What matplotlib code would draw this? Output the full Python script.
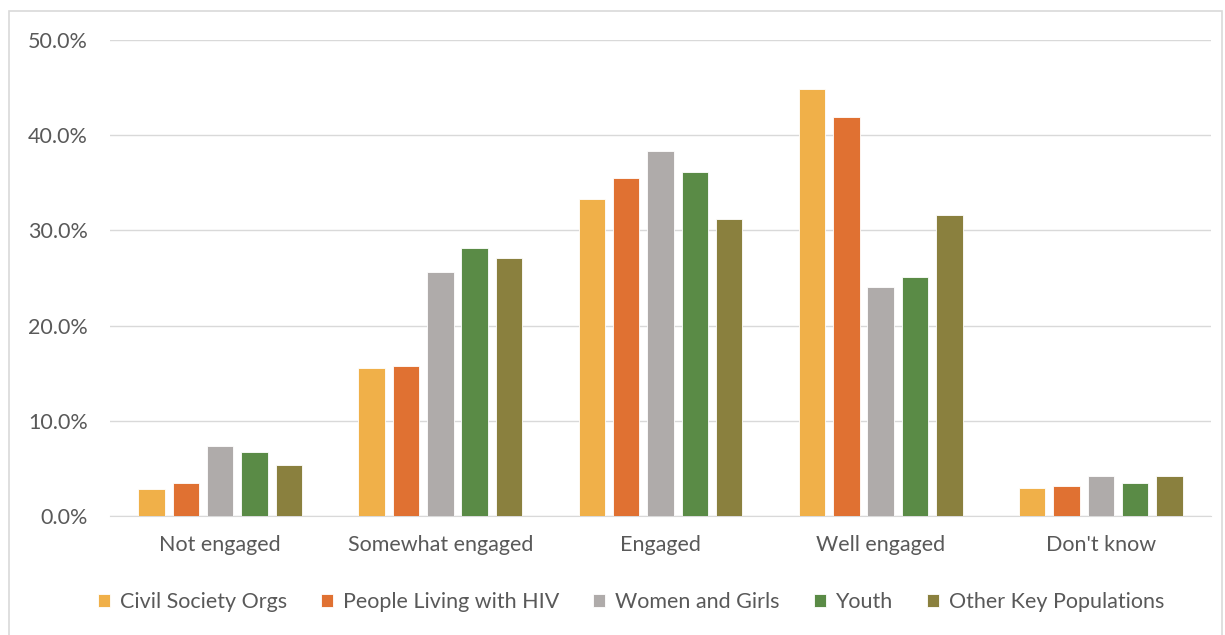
#!/usr/bin/env python3
"""Engagement by group - clustered bar chart"""

import numpy as np
import matplotlib.pyplot as plt
from matplotlib.ticker import PercentFormatter
from matplotlib.patches import Rectangle

categories = ["Not engaged", "Somewhat engaged", "Engaged", "Well engaged", "Don't know"]
groups = ["Civil Society Orgs", "People Living with HIV", "Women and Girls", "Youth",
          "Other Key Populations"]

civil_society = [2.8, 15.5, 33.3, 44.9, 2.9]
people_hiv = [3.5, 15.8, 35.5, 41.9, 3.1]
women_girls = [7.4, 25.6, 38.3, 24.1, 4.2]
youth = [6.7, 28.2, 36.1, 25.1, 3.5]
other_kp = [5.4, 27.1, 31.2, 31.6, 4.2]

series = [civil_society, people_hiv, women_girls, youth, other_kp]
couleurs = ["#F0B049", "#E07132", "#AFABAA", "#5A8B46", "#8A803E"]

plt.rcParams['font.family'] = ['Lato', 'DejaVu Sans']
gris_texte = "#595959"
taille_texte = 15.5

fig = plt.figure(figsize=(12.25, 6.35), dpi=100)
ax = fig.add_axes([110 / 1225, 1 - 516 / 635, 1101 / 1225, 476 / 635])

x = np.arange(len(categories))
largeur = 0.12
pas = 0.156
for i, (vals, c) in enumerate(zip(series, couleurs)):
	ax.bar(x + (i - 2) * pas, vals, width=largeur, color=c, label=groups[i],
	       edgecolor="white", linewidth=0.6, zorder=3)

ax.set_xlim(-0.5, len(categories) - 0.5)
ax.set_ylim(0, 50)
ax.set_yticks(np.arange(0, 51, 10))
ax.yaxis.set_major_formatter(PercentFormatter(decimals=1))
ax.set_xticks(x)
ax.set_xticklabels(categories)
ax.grid(axis="y", color="#D9D9D9", linewidth=1, zorder=0)
for s in ["top", "right", "left"]:
	ax.spines[s].set_visible(False)
ax.spines["bottom"].set_color("#D9D9D9")
ax.tick_params(axis="both", length=0, colors=gris_texte, labelsize=taille_texte)
ax.tick_params(axis="x", pad=14)
ax.tick_params(axis="y", pad=16)

leg = fig.legend(loc="center", bbox_to_anchor=(631 / 1225, 1 - 602 / 635), ncol=5, frameon=False,
                 fontsize=taille_texte, handlelength=0.55, handleheight=0.55, handletextpad=0.45,
                 columnspacing=1.6)
for t in leg.get_texts():
	t.set_color(gris_texte)

fig.patches.append(Rectangle((9 / 1225, -0.05), 1213 / 1225, 1 - 11 / 635 + 0.05,
                             transform=fig.transFigure, fill=False,
                             edgecolor="#D9D9D9", linewidth=1.2))

fig.savefig("out.png", dpi=100)
